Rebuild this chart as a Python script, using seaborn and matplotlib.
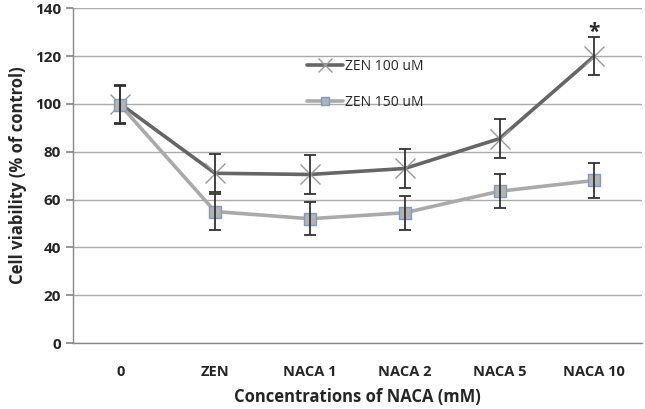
import numpy as np
import pandas as pd
import seaborn as sns
import matplotlib.pyplot as plt

# data
groups      = ['0', 'ZEN', 'NACA 1', 'NACA 2', 'NACA 5', 'NACA 10']
zen100      = [100, 71, 70.5, 73, 85.5, 120]
zen100_err  = [8, 8, 8, 8, 8, 8]
zen150      = [99.5, 55, 52, 54.5, 63.5, 68]
zen150_err  = [8, 7.5, 7, 7, 7, 7.5]

sns.set_theme(style='white')
plt.rcParams['font.family'] = ['Open Sans', 'DejaVu Sans']

df = pd.DataFrame({
    'group': groups * 2,
    'pos': list(range(len(groups))) * 2,
    'value': zen100 + zen150,
    'err': zen100_err + zen150_err,
    'series': ['ZEN 100 uM'] * len(groups) + ['ZEN 150 uM'] * len(groups),
})

fig = plt.figure(figsize=(6.45, 4.09), dpi=100)
ax = fig.add_axes([0.113, 0.161, 0.882, 0.819])

styles = {
    'ZEN 100 uM': dict(color='#666666', marker='x', mfc='#999999', mec='#999999', ms=14, mew=1.0),
    'ZEN 150 uM': dict(color='#aaaaaa', marker='s', mfc='#b3b3b3', mec='#7f9cc4', ms=9, mew=1.0),
}

for name, sub in df.groupby('series'):
    st = styles[name]
    sns.lineplot(data=sub, x='pos', y='value', ax=ax, color=st['color'], lw=2.6,
                 marker=st['marker'], markersize=st['ms'], markerfacecolor=st['mfc'],
                 markeredgecolor=st['mec'], markeredgewidth=st['mew'], label=name, zorder=3)
    ax.errorbar(sub['pos'], sub['value'], yerr=sub['err'], fmt='none', ecolor='#333333',
                elinewidth=1.3, capsize=4, capthick=1.3, zorder=4)

# significance star
ax.text(5, zen100[5] + zen100_err[5] - 2.5, '*', ha='center', va='bottom', fontsize=15, fontweight='bold')

ax.set_xlim(-0.5, len(groups) - 0.5)
ax.set_ylim(0, 140)
ax.set_yticks(np.arange(0, 141, 20))
ax.set_xticks(range(len(groups)))
ax.set_xticklabels(groups)
ax.set_xticks(np.arange(-0.5, len(groups), 1), minor=True)
ax.tick_params(axis='x', which='major', length=0, pad=16, labelsize=10.5)
ax.tick_params(axis='x', which='minor', length=5, color='#888888', direction='out')
ax.tick_params(axis='y', length=5, color='#888888', direction='out', labelsize=11, left=True)
for lab in ax.get_xticklabels() + ax.get_yticklabels():
    lab.set_fontweight('bold')

ax.yaxis.grid(True, color='#aaaaaa', lw=1.0)
ax.set_axisbelow(True)
for s in ['top', 'right']:
    ax.spines[s].set_visible(False)
for s in ['left', 'bottom']:
    ax.spines[s].set_color('#888888')
    ax.spines[s].set_linewidth(1.0)

ax.set_xlabel('Concentrations of NACA (mM)', fontsize=12, fontweight='bold', labelpad=6)
ax.set_ylabel('Cell viability (% of control)', fontsize=12, fontweight='bold', labelpad=6)

ax.legend(loc='upper left', bbox_to_anchor=(0.39, 0.885), frameon=False, fontsize=10,
          handlelength=2.6, labelspacing=1.5, handletextpad=0.1, markerscale=0.7)

fig.savefig('out.png', dpi=100)
